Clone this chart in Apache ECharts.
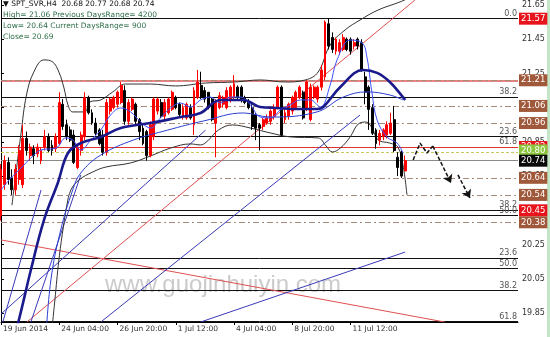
<!DOCTYPE html>
<html><head><meta charset="utf-8">
<script src="https://cdn.jsdelivr.net/npm/echarts@6/dist/echarts.min.js"></script>
<style>html,body{margin:0;padding:0;background:#fff}#c{width:550px;height:337px}</style>
</head><body><div id="c"></div>
<script>
// ---------- data ----------
const tickBars = [0,16,32,48,64,80,96];
const tickTexts = ['19 Jun 2014','24 Jun 04:00','26 Jun 20:00','1 Jul 12:00','4 Jul 04:00','8 Jul 20:00','11 Jul 12:00'];
const priceTicks = [21.65,21.45,21.25,21.05,20.85,20.65,20.45,20.25,20.05,19.85];
const barCount = 143;

const opens = [20.42,20.60,20.73,20.64,20.57,20.63,20.60,20.87,20.77,20.81,
20.78,20.74,20.82,20.88,20.83,20.81,20.84,21.07,20.95,20.92,
20.89,20.70,20.80,20.88,21.11,21.02,20.96,20.92,20.89,20.79,
21.03,21.05,21.07,21.08,21.15,20.97,21.04,21.07,20.98,20.93,
20.91,20.77,20.88,21.03,21.08,21.00,21.02,21.04,21.11,21.07,
21.00,20.99,21.05,20.95,21.11,21.18,21.15,21.14,21.10,20.96,
21.05,21.07,21.05,21.10,21.11,21.17,21.17,21.11,21.08,21.05,
21.01,20.95,20.94,20.96,20.97,21.00,21.05,21.17,20.98,21.00,
21.03,21.05,21.11,21.14,21.04,20.98,21.11,21.10,21.17,21.23,
21.54,21.46,21.38,21.38,21.39,21.45,21.45,21.41,21.45,21.43,
21.23,21.17,21.05,20.92,20.86,20.88,20.89,20.90,20.98,20.76,
20.79,20.68];
const closes = [20.69,20.74,20.63,20.57,20.69,20.80,20.87,20.80,20.82,20.77,
20.82,20.80,20.88,20.80,20.80,20.88,21.08,20.94,20.88,20.86,
20.73,20.82,20.89,21.11,21.02,20.96,20.90,20.84,20.79,21.08,
21.10,21.11,21.14,21.18,20.97,21.08,21.10,20.97,20.91,20.84,
20.77,20.95,21.10,21.10,21.00,21.08,21.10,21.14,21.05,21.01,
21.05,21.07,20.99,21.15,21.20,21.11,21.10,21.05,20.98,21.08,
21.12,21.11,21.15,21.17,21.19,21.11,21.10,21.08,21.05,20.94,
20.93,20.93,20.98,20.99,21.03,21.05,21.17,20.89,21.02,21.07,
21.11,21.14,21.17,20.99,21.20,21.17,21.17,21.17,21.27,21.55,
21.41,21.39,21.45,21.43,21.46,21.39,21.38,21.43,21.41,21.27,
21.14,21.04,20.90,20.84,20.90,20.92,20.95,20.96,20.80,20.70,
20.65,20.74];
const highs = [20.72,20.77,20.76,20.69,20.72,20.83,20.95,20.91,20.84,20.83,
20.84,20.82,20.92,20.90,20.86,20.90,21.14,21.10,20.98,20.94,
20.92,20.83,20.91,21.14,21.12,21.04,20.99,20.93,20.92,21.10,
21.11,21.12,21.15,21.20,21.18,21.10,21.11,21.08,20.99,20.95,
20.92,20.97,21.11,21.11,21.10,21.10,21.11,21.15,21.12,21.08,
21.07,21.08,21.07,21.17,21.27,21.26,21.17,21.14,21.11,21.10,
21.14,21.12,21.17,21.18,21.24,21.18,21.18,21.12,21.10,21.07,
21.02,20.96,20.99,21.01,21.04,21.07,21.18,21.18,21.04,21.08,
21.12,21.15,21.18,21.15,21.21,21.19,21.18,21.18,21.30,21.56,
21.57,21.49,21.46,21.45,21.48,21.46,21.46,21.45,21.46,21.45,
21.26,21.18,21.07,20.93,20.92,20.93,20.97,21.02,21.06,20.79,
20.80,20.77];
const lows = [20.39,20.57,20.60,20.54,20.54,20.60,20.58,20.77,20.74,20.72,
20.76,20.72,20.80,20.79,20.77,20.79,20.83,20.92,20.86,20.85,
20.72,20.69,20.77,20.86,21.01,20.95,20.89,20.83,20.77,20.77,
21.01,21.04,21.05,21.07,20.95,20.95,21.03,20.95,20.86,20.83,
20.74,20.76,20.86,21.01,20.99,20.98,21.01,21.03,21.04,21.00,
20.98,20.98,20.98,20.89,21.10,21.10,21.08,21.04,20.97,20.76,
21.04,21.05,21.04,21.08,21.10,21.10,21.08,21.07,21.04,20.92,
20.86,20.80,20.92,20.95,20.95,20.98,21.04,20.88,20.96,20.98,
21.01,21.04,21.10,20.98,21.03,20.97,21.10,21.08,21.15,21.21,
21.39,21.37,21.36,21.36,21.38,21.38,21.36,21.39,21.39,21.26,
21.07,20.92,20.89,20.81,20.83,20.86,20.87,20.89,20.79,20.65,
20.64,20.68];

// indicator lines: [bar, price]
const upperBand = [[3.0,20.480],[4.3,20.700],[5.5,20.900],[7.0,21.124],[9.0,21.258],[11.8,21.329],[14.2,21.317],[15.9,21.258],[17.3,21.165],[18.4,21.066],[19.7,21.025],[23.0,21.025],[24.4,21.083],[27.4,21.095],[30.7,21.142],[34.2,21.188],[41.1,21.188],[47.9,21.177],[56.2,21.194],[64.4,21.200],[71.2,21.212],[78.1,21.200],[83.6,21.212],[87.1,21.258],[90.4,21.416],[94.5,21.504],[98.6,21.562],[103.6,21.621],[109.6,21.668],[113.7,21.708]];
const lowerBand = [[13.7,19.692],[14.8,19.926],[15.9,20.160],[17.0,20.335],[18.1,20.481],[19.2,20.569],[21.4,20.627],[25.2,20.674],[28.8,20.703],[35.6,20.727],[41.1,20.768],[46.6,20.814],[52.1,20.838],[54.8,20.832],[57.0,20.861],[59.7,20.919],[63.6,20.949],[68.5,20.931],[74.0,20.902],[79.5,20.879],[87.1,20.873],[89.3,20.826],[91.0,20.791],[93.2,20.814],[95.9,20.879],[98.1,20.954],[100.3,20.966],[101.9,20.931],[103.6,20.861],[106.8,20.843],[109.0,20.820],[110.4,20.715],[111.5,20.540]];
const slowMA = [[3.3,19.692],[4.9,19.809],[8.2,20.101],[11.8,20.393],[15.6,20.610],[18.4,20.785],[21.9,20.843],[27.4,20.879],[32.9,20.931],[41.1,20.960],[49.3,20.995],[54.8,21.019],[60.3,21.095],[66.6,21.095],[71.2,21.054],[75.9,21.048],[81.4,21.042],[86.8,21.042],[88.5,21.054],[93.2,21.171],[99.5,21.270],[103.3,21.253],[106.8,21.200],[110.4,21.112],[111,21.095]];
const midMA = [[12.3,19.692],[13.7,20.043],[16.4,20.335],[19.7,20.569],[21.9,20.668],[27.4,20.773],[36.4,20.861],[45.8,20.919],[55.6,20.972],[66.6,21.019],[74.0,20.995],[86.8,21.025],[94.0,21.112],[100.5,21.142],[106.8,21.124],[110.4,21.095]];
const fastMA = [[0,20.569],[2.7,20.639],[5.5,20.697],[8.2,20.756],[11.0,20.803],[15.1,20.814],[17.8,20.873],[19.7,20.861],[21.9,20.803],[24.7,20.861],[27.4,20.919],[30.1,21.007],[32.9,21.048],[35.6,21.025],[38.4,20.966],[41.1,20.931],[43.8,20.990],[46.6,21.048],[49.3,21.077],[52.1,21.054],[54.8,21.095],[57.5,21.112],[60.3,21.077],[63.0,21.112],[65.8,21.112],[68.5,21.066],[71.2,20.995],[74.0,20.990],[76.7,21.036],[79.5,21.066],[82.2,21.095],[84.9,21.095],[87.7,21.054],[90.4,21.182],[92.3,21.329],[95.9,21.445],[99.2,21.428],[100.5,21.346],[101.9,21.136],[103.3,20.978],[106.0,20.879],[108.8,20.843],[110.4,20.785]];
const redTrend1 = [[7.1,19.797],[113.7,21.679]];
const redTrend2 = [[0,20.277],[121.9,19.797]];
const blueFan1 = [[0,19.844],[56.2,20.919]];
const blueFan2 = [[27.4,19.797],[98.6,21.007]];
const blueFan3 = [[54.8,19.797],[111.0,20.206]];
const blueFan4 = [[0.5,19.797],[11.0,20.569]];
const blueFan5 = [[8.2,19.797],[21.9,20.656]];
const arrowPathA = [[113.2,20.744],[115.1,20.843],[117.0,20.785],[118.6,20.826],[123.6,20.610]];
const arrowPathB = [[125.5,20.657],[128.8,20.522]];

const fibLevels = [21.57,21.107,20.879,20.82,20.452,20.417,20.166,20.107,19.984,19.799];
const fibTexts = ['0.0','38.2','23.6','61.8','38.2','50.0','23.6','50.0','38.2','61.8'];
const dashDotLevels = [21.21,21.06,20.96,20.64,20.54,20.38];
const priceBoxes = [21.57,21.21,21.06,20.96,20.82,20.80,20.74,20.64,20.54,20.45,20.38];
const headerLines = ['\u25BC SPT_SVR,H4  20.68 20.77 20.68 20.74','High= 21.06 Previous DaysRange= 4200','Low= 20.64 Current DaysRange= 900','Close= 20.69'];
const watermark = 'www.guojinhuiyin.com';

// ---------- styles ----------
const boxColor = {'21.57':'#e8141c','21.21':'#a0583a','21.06':'#a0583a','20.96':'#a0583a','20.82':'#e8141c','20.80':'#8cc63e','20.74':'#0a0a0a','20.64':'#a0583a','20.54':'#a0583a','20.45':'#e8141c','20.38':'#a0583a'};
const FONT = 'DejaVu Sans';

const categories = Array.from({length: barCount}, (_, i) => 'b' + i);
const showTick = (i) => tickBars.indexOf(i) >= 0;
const candleData = opens.map((o, i) => [o, closes[i], lows[i], highs[i]]);

const lineMarks = [];
lineMarks.push({yAxis: 21.206, lineStyle:{color:'#e05a5a', width:1.6, type:'solid'}, label:{show:false}});
fibLevels.forEach((v, i) => {
  lineMarks.push({yAxis: v, lineStyle:{color: fibTexts[i]==='61.8' && v>20.5 ? '#e03030' : '#111', width:1, type:'solid'},
    label:{show:true, position:'insideEndTop', formatter: fibTexts[i], color:'#555', fontSize:8, fontFamily:FONT, distance:1}});
});
dashDotLevels.forEach(v => {
  lineMarks.push({yAxis: v, lineStyle:{color:'#a88a7a', width:1, type:[6,3,2,3]}, label:{show:false}});
});
lineMarks.push({yAxis: 20.79, lineStyle:{color:'#c6c85a', width:1, type:[3,2]}, label:{show:false}});
lineMarks.push({yAxis: 20.744, lineStyle:{color:'#8a8a8a', width:1, type:'solid'}, label:{show:false}});

const boxMarks = priceBoxes.map(v => ({yAxis: v, lineStyle:{color:'rgba(0,0,0,0)', width:0},
  label:{show:true, position:'end', distance:1, formatter: v.toFixed(2), color:'#fff',
    backgroundColor: boxColor[v.toFixed(2)], padding:[2,2,1,2], fontSize:8.5, fontFamily:FONT, lineHeight:9}}));

function lineSeries(data, color, width, extra) {
  return Object.assign({type:'line', xAxisIndex:1, yAxisIndex:0, data, showSymbol:false, symbol:'none',
    lineStyle:{color, width}, silent:true, animation:false, z:3}, extra || {});
}

const chart = echarts.init(document.getElementById('c'), null, {renderer:'canvas'});
chart.setOption({
  animation:false,
  backgroundColor:'#fff',
  grid:{left:0, right:32, top:0, bottom:15, containLabel:false},
  xAxis:[{
    type:'category', data:categories, boundaryGap:false,
    axisLine:{show:true, lineStyle:{color:'#000', width:1}},
    axisTick:{show:true, interval: showTick, length:3, lineStyle:{color:'#000'}},
    axisLabel:{interval: showTick, formatter:(v, i) => tickTexts[tickBars.indexOf(i)] || '',
      align:'left', margin:3, padding:[0,0,0,2], fontSize:7.5, fontFamily:FONT, color:'#333'},
    splitLine:{show:false}
  },{
    type:'value', min:0, max:barCount-1, show:false
  }],
  yAxis:[{
    type:'value', position:'right', min:19.7973, max:21.6792, scale:true,
    axisLine:{show:true, lineStyle:{color:'#000'}},
    axisTick:{show:true, length:3, customValues: priceTicks, lineStyle:{color:'#000'}},
    axisLabel:{customValues: priceTicks, formatter:(v)=>v.toFixed(2), margin:4, fontSize:8, fontFamily:FONT, color:'#333'},
    splitLine:{show:false}
  }],
  series:[
    lineSeries(redTrend1, '#e05050', 1),
    lineSeries(redTrend2, '#e05050', 1),
    lineSeries(blueFan1, '#3a3ab8', 1),
    lineSeries(blueFan2, '#3a3ab8', 1),
    lineSeries(blueFan3, '#3a3ab8', 1),
    lineSeries(blueFan4, '#3a3ab8', 1),
    lineSeries(blueFan5, '#3a3ab8', 1),
    lineSeries(upperBand, '#333', 1, {smooth:0.4}),
    lineSeries(lowerBand, '#333', 1, {smooth:0.4}),
    {
      type:'candlestick', xAxisIndex:0, yAxisIndex:0, data:candleData, barWidth:2.4,
      itemStyle:{color:'#ff0000', color0:'#000', borderColor:'#ff0000', borderColor0:'#000', borderWidth:1},
      silent:true, z:4,
      markLine:{silent:true, symbol:['none','none'], animation:false, data: lineMarks, z:2}
    },
    lineSeries(midMA, '#2b3fd0', 1, {smooth:0.4, z:5}),
    lineSeries(fastMA, '#3f52ff', 1, {smooth:0.4, z:5}),
    lineSeries(slowMA, '#1a1a8c', 2.6, {smooth:0.4, z:6}),
    lineSeries(arrowPathA.slice(0, -1), '#111', 1.5, {lineStyle:{color:'#111', width:1.5, type:[4,2]}, z:7,
      markLine:{silent:true, symbol:['none','arrow'], symbolSize:8, animation:false,
        lineStyle:{color:'#111', width:1.5, type:[4,2]}, label:{show:false},
        data:[[{coord: arrowPathA[arrowPathA.length-2]}, {coord: arrowPathA[arrowPathA.length-1]}],
              [{coord: arrowPathB[0]}, {coord: arrowPathB[1]}]]}}),
    lineSeries([], '#000', 1, {z:10, markLine:{silent:true, symbol:['none','none'], animation:false, data: boxMarks, z:10}})
  ],
  graphic:[
    {type:'rect', left:547, top:0, shape:{width:3, height:337}, style:{fill:'#c4e6c6'}, silent:true},
    {type:'text', left:105, top:273, style:{text: watermark, font:'24px "Liberation Sans"', fill:'rgba(140,140,140,0.45)'}, silent:true, z:1},
    {type:'text', left:3, top:0, style:{text: headerLines[0], font:'7.5px "DejaVu Sans"', fill:'#111'}, silent:true, z:20},
    {type:'text', left:3, top:11, style:{text: headerLines[1], font:'7.5px "DejaVu Sans"', fill:'#2f6f4a'}, silent:true, z:20},
    {type:'text', left:3, top:22, style:{text: headerLines[2], font:'7.5px "DejaVu Sans"', fill:'#2f6f4a'}, silent:true, z:20},
    {type:'text', left:3, top:33, style:{text: headerLines[3], font:'7.5px "DejaVu Sans"', fill:'#2f6f4a'}, silent:true, z:20}
  ]
});
</script>
</body></html>
